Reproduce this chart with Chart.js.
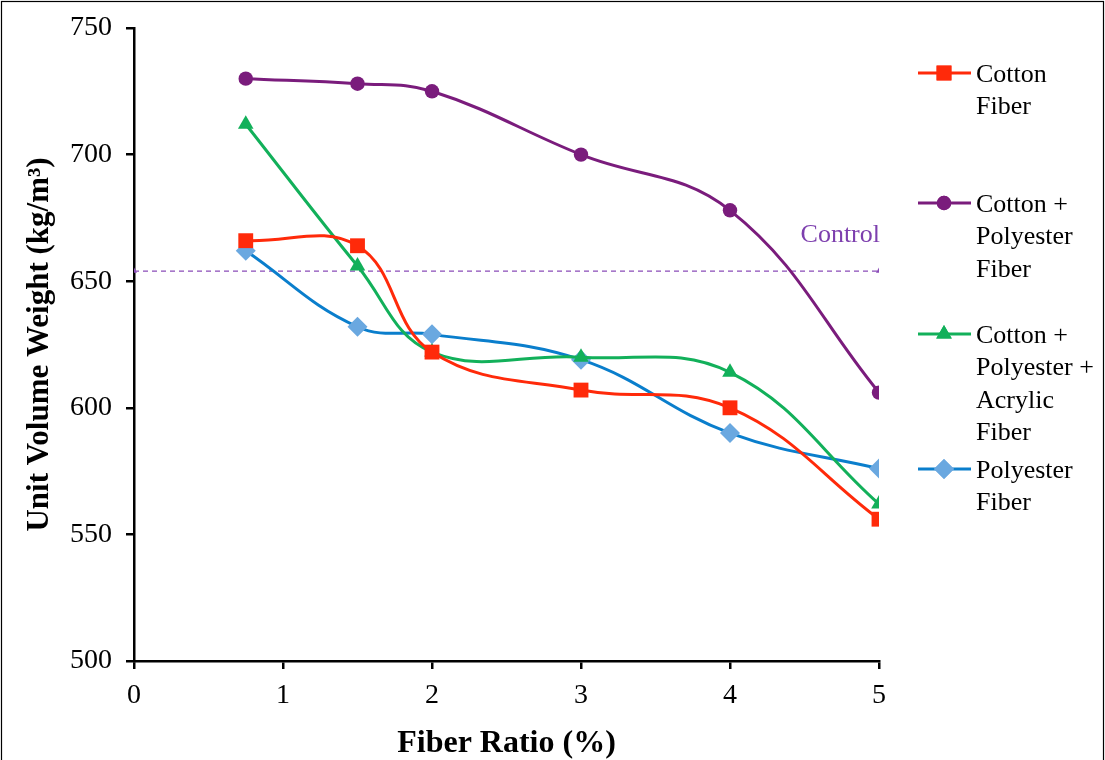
<!DOCTYPE html>
<html>
<head>
<meta charset="utf-8">
<script src="https://cdn.jsdelivr.net/npm/chart.js@4.4.1/dist/chart.umd.min.js"></script>
<style>
  html, body { margin: 0; padding: 0; background: #fff; }
  #wrap { width: 1105px; height: 760px; position: relative; }
</style>
</head>
<body>
<div id="wrap"><canvas id="myChart" width="1105" height="760"></canvas></div>
<script>
// fiber ratio (%) for each measured point
const fiberRatio = [0.75, 1.5, 2, 3, 4, 5];

// unit volume weight (kg/m3)
const cotton = [666, 664, 622, 607, 600, 556];
const cottonPolyester = [730, 728, 725, 700, 678, 606];
const cottonPolyAcrylic = [712, 656, 622, 620, 614, 562];
const polyester = [662, 632, 629, 619, 590, 576];

const controlX = [0, 5];
const controlValue = 654;
const controlLabel = "Control";
const controlLabelAt = { x: 4.74, y: 668 };

const xTicks = [0, 1, 2, 3, 4, 5];
const yTicks = [500, 550, 600, 650, 700, 750];

const legendNames = [
  ["Cotton", "Fiber"],
  ["Cotton +", "Polyester", "Fiber"],
  ["Cotton +", "Polyester +", "Acrylic", "Fiber"],
  ["Polyester", "Fiber"]
];

function pts(xs, ys) {
  return xs.map((x, i) => ({ x: x, y: ys[i] }));
}

const serif = "'Liberation Serif', 'DejaVu Serif', serif";

const series = [
  { label: legendNames[0].join(" "), data: pts(fiberRatio, cotton), borderColor: "#FF2A0A", backgroundColor: "#FF2A0A",
    pointStyle: "rect", pointRadius: 10.5 },
  { label: legendNames[1].join(" "), data: pts(fiberRatio, cottonPolyester), borderColor: "#7A1C7C", backgroundColor: "#7A1C7C",
    pointStyle: "circle", pointRadius: 7.2 },
  { label: legendNames[2].join(" "), data: pts(fiberRatio, cottonPolyAcrylic), borderColor: "#12B05A", backgroundColor: "#12B05A",
    pointStyle: "triangle", pointRadius: 9 },
  { label: legendNames[3].join(" "), data: pts(fiberRatio, polyester), borderColor: "#0A7ECC", backgroundColor: "#6AA8E0",
    pointStyle: "rectRot", pointRadius: 10 }
];

const datasets = series.map(s => Object.assign({
  borderWidth: 3,
  tension: 0.4,
  pointBorderWidth: 0,
  pointBorderColor: s.backgroundColor
}, s));

datasets.push({
  label: controlLabel,
  data: pts(controlX, controlX.map(() => controlValue)),
  borderColor: "#8A4CB8",
  backgroundColor: "#8A4CB8",
  borderWidth: 1.3,
  borderDash: [5, 4],
  pointStyle: "triangle",
  pointRadius: 3.5,
  pointBorderWidth: 0,
  tension: 0
});

// border round the whole figure
const frame = {
  id: "frame",
  beforeDraw(chart) {
    const c = chart.ctx;
    c.save();
    c.fillStyle = "#fff";
    c.fillRect(0, 0, chart.width, chart.height);
    c.strokeStyle = "#000";
    c.lineWidth = 1.2;
    c.strokeRect(1.5, 1.5, chart.width - 3, chart.height + 10);
    c.restore();
  }
};

// legend on the right with wrapped names, and the "Control" note
const sideLegend = {
  id: "sideLegend",
  afterDraw(chart) {
    const c = chart.ctx;
    const rowY = [73, 203, 334, 469];
    c.save();
    c.font = "26px " + serif;
    c.textBaseline = "middle";
    series.forEach((s, i) => {
      const y = rowY[i];
      c.strokeStyle = s.borderColor;
      c.lineWidth = 3;
      c.beginPath();
      c.moveTo(918, y);
      c.lineTo(971, y);
      c.stroke();
      c.fillStyle = s.backgroundColor;
      Chart.helpers.drawPoint(c, { pointStyle: s.pointStyle, radius: s.pointRadius, rotation: 0, borderWidth: 0 }, 944, y);
      c.fill();
      c.fillStyle = "#000";
      legendNames[i].forEach((t, j) => c.fillText(t, 976, y + 2 + j * 32.5));
    });
    const xs = chart.scales.x, ys = chart.scales.y;
    c.fillStyle = "#7D3FAE";
    c.textAlign = "center";
    c.font = "26px " + serif;
    c.fillText(controlLabel, xs.getPixelForValue(controlLabelAt.x), ys.getPixelForValue(controlLabelAt.y));
    c.restore();
  }
};

new Chart(document.getElementById("myChart"), {
  type: "line",
  data: { datasets: datasets },
  plugins: [frame, sideLegend],
  options: {
    responsive: false,
    animation: false,
    layout: { padding: { left: 0, right: 226, top: 28, bottom: 0 } },
    plugins: {
      legend: { display: false },
      tooltip: { enabled: false }
    },
    scales: {
      x: {
        type: "linear",
        min: 0,
        max: 5,
        afterBuildTicks: scale => { scale.ticks = xTicks.map(v => ({ value: v })); },
        afterFit: scale => { scale.height = 99; scale.paddingLeft = 0; scale.paddingRight = 0; },
        border: { color: "#000", width: 2.5 },
        grid: { drawOnChartArea: false, color: "#000", lineWidth: 2.5, tickLength: 8 },
        ticks: { color: "#000", font: { family: serif, size: 28 }, padding: 10 },
        title: {
          display: true,
          text: "Fiber Ratio (%)",
          color: "#000",
          font: { family: serif, size: 32, weight: "bold" },
          padding: { top: 0, bottom: -3 }
        }
      },
      y: {
        min: 500,
        max: 750,
        afterBuildTicks: scale => { scale.ticks = yTicks.map(v => ({ value: v })); },
        afterFit: scale => { scale.width = 134; scale.paddingTop = 0; scale.paddingBottom = 0; },
        border: { color: "#000", width: 2.5 },
        grid: { drawOnChartArea: false, color: "#000", lineWidth: 2.5, tickLength: 8 },
        ticks: { color: "#000", font: { family: serif, size: 28 }, padding: 14 },
        title: {
          display: true,
          text: "Unit Volume Weight (kg/m³)",
          color: "#000",
          font: { family: serif, size: 31, weight: "bold" },
          padding: { top: 21, bottom: 0 }
        }
      }
    }
  }
});
</script>
</body>
</html>
